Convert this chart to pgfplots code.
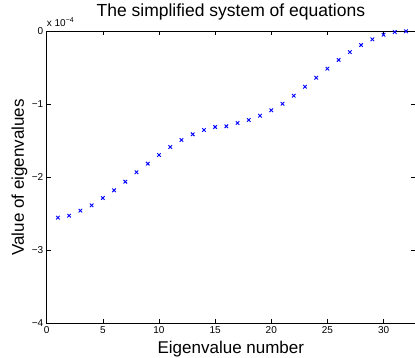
\documentclass[border=0pt]{standalone}
\usepackage{pgfplots}
\pgfplotsset{compat=1.18}
\usepackage{fontspec}
\setmainfont{Liberation Sans}
\begin{document}
\begin{tikzpicture}
\begin{axis}[
  name=ax,
  at={(0,0)}, anchor=south west,
  scale only axis, width=368.3pt, height=292pt,
  xmin=0, xmax=32.8, ymin=-4, ymax=0,
  xtick={0,5,10,15,20,25,30},
  ytick={-4,-3,-2,-1,0},
  yticklabels={{−4},{−3},{−2},{−1},{0}},
  tick align=inside, tick pos=both,
  major tick length=4pt,
  /pgf/number format/assume math mode=true,
  tick label style={font=\fontsize{10}{12}\selectfont},
  axis line style={line width=0.8pt},
  tick style={line width=0.5pt, black},
  title={The simplified system of equations},
  title style={font=\fontsize{17.5}{20}\selectfont, at={(axis description cs:0.5,1)}, anchor=base, yshift=8.6pt},
  xlabel={Eigenvalue number},
  xlabel style={font=\fontsize{17}{20}\selectfont, at={(axis description cs:0.5,0)}, anchor=base, yshift=-30pt},
  clip=false,
]
\addplot[only marks, mark=x, mark size=2.5pt, color={rgb,255:red,0;green,0;blue,255}, mark options={line width=0.9pt}] coordinates {
(1,-2.553) (2,-2.526) (3,-2.457) (4,-2.384) (5,-2.284) (6,-2.178) (7,-2.060) (8,-1.932)
(9,-1.813) (10,-1.695) (11,-1.585) (12,-1.489) (13,-1.411) (14,-1.352) (15,-1.311) (16,-1.301)
(17,-1.256) (18,-1.215) (19,-1.156) (20,-1.082) (21,-0.992) (22,-0.882) (23,-0.759) (24,-0.636)
(25,-0.512) (26,-0.393) (27,-0.284) (28,-0.188) (29,-0.110) (30,-0.047) (31,-0.010) (32,0.000)
};
\node[font=\fontsize{10}{12}\selectfont, anchor=base west, inner sep=0pt] at (axis description cs:0,1) [yshift=5pt] {x 10\textsuperscript{−4}};
\end{axis}
\node[font=\fontsize{17}{20}\selectfont, rotate=90, anchor=base, inner sep=0pt] at ([xshift=-22.7pt]ax.west) {Value of eigenvalues};
\pgfresetboundingbox
\path (-46.7pt,-34.7pt) rectangle (368.3pt,323.3pt);
\end{tikzpicture}
\end{document}
